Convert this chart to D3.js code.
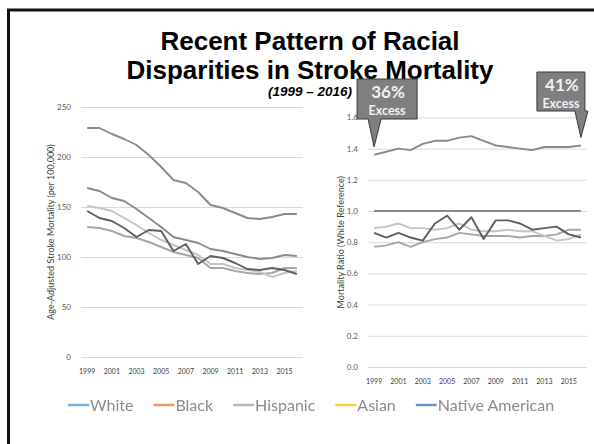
<!DOCTYPE html>
<html>
<head>
<meta charset="utf-8">
<script src="https://cdn.jsdelivr.net/npm/d3@7"></script>
<style>
  html, body { margin: 0; padding: 0; background: #fff; }
  svg { display: block; }
</style>
</head>
<body>
<svg id="chart" width="594" height="444"></svg>
<script>
// Years on the category axis
const years = [1999, 2000, 2001, 2002, 2003, 2004, 2005, 2006, 2007, 2008,
               2009, 2010, 2011, 2012, 2013, 2014, 2015, 2016];
const yearTicks = [1999, 2001, 2003, 2005, 2007, 2009, 2011, 2013, 2015];

// Age-adjusted stroke mortality per 100,000
const rateWhite    = [169, 166, 159, 156, 148, 139, 130, 120, 117, 114, 108, 106, 103, 100, 98, 99, 102, 101];
const rateBlack    = [229, 229, 223, 218, 212, 202, 190, 177, 174, 165, 152, 149, 144, 139, 138, 140, 143, 143];
const rateHispanic = [130, 129, 126, 121, 119, 115, 110, 105, 102, 99, 89, 89, 86, 84, 83, 84, 89, 89];
const rateAsian    = [151, 149, 146, 139, 132, 124, 117, 112, 107, 102, 93, 93, 89, 87, 85, 80, 84, 86];
const rateNative   = [146, 139, 136, 129, 120, 127, 126, 106, 113, 93, 101, 99, 94, 88, 87, 89, 87, 83];

// Mortality ratio relative to White
const ratioWhite    = [1.0, 1.0, 1.0, 1.0, 1.0, 1.0, 1.0, 1.0, 1.0, 1.0, 1.0, 1.0, 1.0, 1.0, 1.0, 1.0, 1.0, 1.0];
const ratioBlack    = [1.36, 1.38, 1.40, 1.39, 1.43, 1.45, 1.45, 1.47, 1.48, 1.45, 1.42, 1.41, 1.40, 1.39, 1.41, 1.41, 1.41, 1.42];
const ratioHispanic = [0.77, 0.78, 0.80, 0.77, 0.80, 0.82, 0.83, 0.86, 0.85, 0.84, 0.84, 0.84, 0.83, 0.84, 0.84, 0.85, 0.88, 0.88];
const ratioAsian    = [0.89, 0.90, 0.92, 0.89, 0.89, 0.88, 0.89, 0.92, 0.88, 0.87, 0.87, 0.88, 0.87, 0.87, 0.84, 0.81, 0.82, 0.85];
const ratioNative   = [0.86, 0.83, 0.86, 0.83, 0.81, 0.92, 0.97, 0.88, 0.96, 0.82, 0.94, 0.94, 0.92, 0.88, 0.89, 0.90, 0.85, 0.83];

const rateTicks  = [0, 50, 100, 150, 200, 250];
const ratioTicks = [0, 0.2, 0.4, 0.6, 0.8, 1.0, 1.2, 1.4, 1.6];

const seriesNames = ["White", "Black", "Hispanic", "Asian", "Native American"];
const callouts = [
  { pct: "36%", label: "Excess", year: 1999, value: ratioBlack[0] },
  { pct: "41%", label: "Excess", year: 2016, value: ratioBlack[ratioBlack.length - 1] }
];

// ---- styling ----
const lineGray   = { "White": "#8a8a8a", "Black": "#8a8a8a", "Hispanic": "#a6a6a6", "Asian": "#c4c4c4", "Native American": "#5f5f5f" };
const legendCol  = { "White": "#5B9BD5", "Black": "#ED7D31", "Hispanic": "#A5A5A5", "Asian": "#FFC000", "Native American": "#4472C4" };
const tickFont = "Lato, 'Open Sans', sans-serif";

const svg = d3.select("#chart");

// defs: soft blur for the legend
const defs = svg.append("defs");
defs.append("filter").attr("id", "soft").attr("x", "-5%").attr("y", "-30%").attr("width", "110%").attr("height", "160%")
  .append("feGaussianBlur").attr("stdDeviation", 0.55);

// slide frame
svg.append("path")
  .attr("d", "M8.5,460 V10 H610")
  .attr("fill", "none").attr("stroke", "#111").attr("stroke-width", 3);

// title
const title = svg.append("text")
  .attr("text-anchor", "middle")
  .attr("font-family", "'Liberation Sans', Arial, sans-serif")
  .attr("font-weight", "bold").attr("font-size", 26).attr("fill", "#000");
title.append("tspan").attr("x", 310).attr("y", 50).text("Recent Pattern of Racial");
title.append("tspan").attr("x", 310).attr("y", 79).text("Disparities in Stroke Mortality");

svg.append("text")
  .attr("x", 310).attr("y", 96).attr("text-anchor", "middle")
  .attr("font-family", "'Liberation Sans', Arial, sans-serif")
  .attr("font-weight", "bold").attr("font-style", "italic").attr("font-size", 13.5)
  .text("(1999 \u2013 2016)");

// ---- generic panel ----
function panel(opts) {
  const x = d3.scaleBand().domain(years).range(opts.xr).padding(0);
  const y = d3.scaleLinear().domain(opts.yd).range(opts.yr);
  const cx = d => x(d) + x.bandwidth() / 2;
  const g = svg.append("g");

  // gridlines
  g.append("g").selectAll("line").data(opts.ticks).join("line")
    .attr("x1", opts.xr[0]).attr("x2", opts.xr[1])
    .attr("y1", d => y(d) + 0.5).attr("y2", d => y(d) + 0.5)
    .attr("stroke", "#d9d9d9").attr("stroke-width", 1);

  // y axis labels
  const ya = g.append("g").attr("transform", `translate(${opts.xr[0] - 10},0)`)
    .call(d3.axisLeft(y).tickValues(opts.ticks).tickSize(0).tickFormat(opts.fmt));
  ya.select(".domain").remove();
  ya.selectAll("text").attr("font-family", tickFont).attr("font-size", 8).attr("fill", "#595959").attr("x", 0);

  // x axis labels
  const xa = g.append("g").attr("transform", `translate(0,${opts.yr[0] + 9})`)
    .call(d3.axisBottom(x).tickValues(yearTicks).tickSize(0));
  xa.select(".domain").remove();
  xa.selectAll("text").attr("font-family", tickFont).attr("font-size", 7).attr("fill", "#404040");

  // axis title
  g.append("text")
    .attr("transform", `translate(${opts.titleX},${(opts.yr[0] + opts.yr[1]) / 2}) rotate(-90)`)
    .attr("text-anchor", "middle").attr("dy", "0.35em")
    .attr("font-family", tickFont).attr("font-size", 9).attr("fill", "#404040")
    .text(opts.title);

  // series
  const line = d3.line().x((d, i) => cx(years[i])).y(d => y(d));
  opts.series.forEach(s => {
    g.append("path").datum(s.values)
      .attr("d", line).attr("fill", "none")
      .attr("stroke", lineGray[s.name]).attr("stroke-width", 1.9)
      .attr("stroke-linejoin", "round");
  });
  return { x: cx, y };
}

panel({
  xr: [81, 303], yr: [357, 107], yd: [0, 250], ticks: rateTicks,
  fmt: d3.format("d"), titleX: 51,
  title: "Age-Adjusted Stroke Mortality (per 100,000)",
  series: [
    { name: "White", values: rateWhite },
    { name: "Black", values: rateBlack },
    { name: "Hispanic", values: rateHispanic },
    { name: "Asian", values: rateAsian },
    { name: "Native American", values: rateNative }
  ]
});

const right = panel({
  xr: [368, 587], yr: [367, 117.4], yd: [0, 1.6], ticks: ratioTicks,
  fmt: d3.format(".1f"), titleX: 341,
  title: "Mortality Ratio (White Reference)",
  series: [
    { name: "White", values: ratioWhite },
    { name: "Black", values: ratioBlack },
    { name: "Hispanic", values: ratioHispanic },
    { name: "Asian", values: ratioAsian },
    { name: "Native American", values: ratioNative }
  ]
});

// ---- callouts pointing at the Black ratio ----
const boxes = [
  { w: 60, h: 40, top: 79, offset: -17 },
  { w: 48, h: 39, top: 72, offset: -44 }
];
callouts.forEach((c, i) => {
  const px = right.x(c.year), py = right.y(c.value) - 8;
  const b = boxes[i];
  const x0 = px + b.offset, x1 = x0 + b.w, y0 = b.top, y1 = b.top + b.h;
  const t0 = px - 6, t1 = px + 7;
  const d = `M${x0},${y0} H${x1} V${y1} H${t1} L${px},${py} L${t0},${y1} H${x0} Z`;
  svg.append("path").attr("d", d)
    .attr("fill", "#7f7f7f").attr("stroke", "#3a3a3a").attr("stroke-width", 1);
  const cxm = (x0 + x1) / 2;
  svg.append("text").attr("x", cxm + 1).attr("y", y0 + 19).attr("text-anchor", "middle")
    .attr("font-family", tickFont).attr("font-weight", "bold").attr("font-size", 17)
    .attr("fill", "#f2f2f2").text(c.pct);
  svg.append("text").attr("x", cxm).attr("y", y0 + 36).attr("text-anchor", "middle")
    .attr("font-family", tickFont).attr("font-weight", "bold").attr("font-size", 12.5)
    .attr("fill", "#f2f2f2").text(c.label);
});

// ---- legend ----
const lg = svg.append("g").attr("filter", "url(#soft)").attr("opacity", 0.8);
let lx = 68;
const ly = 405;
seriesNames.forEach(n => {
  lg.append("line").attr("x1", lx).attr("x2", lx + 21).attr("y1", ly).attr("y2", ly)
    .attr("stroke", legendCol[n]).attr("stroke-width", 2.4);
  const t = lg.append("text").attr("x", lx + 22).attr("y", ly).attr("dy", "0.36em")
    .attr("font-family", tickFont).attr("font-size", 16).attr("fill", "#6e6e6e").text(n);
  lx += 22 + t.node().getComputedTextLength() + 20;
});
</script>
</body>
</html>
